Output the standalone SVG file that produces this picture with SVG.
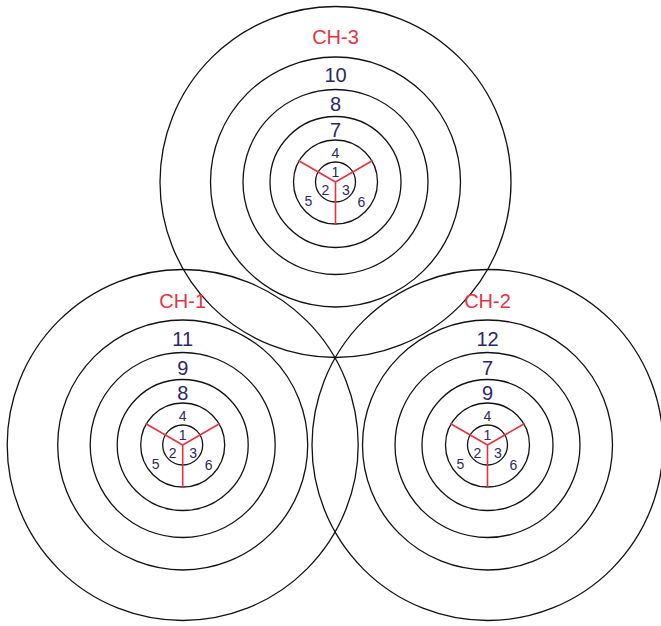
<svg xmlns="http://www.w3.org/2000/svg" width="661" height="626" viewBox="0 0 661 626">
<style>
.ring{fill:none;stroke:#111;stroke-width:1.3}
.spoke{stroke:#e8333f;stroke-width:1.6;fill:none}
.ch{font-family:"Liberation Sans",Arial,sans-serif;font-size:20px;fill:#e8333f;text-anchor:middle}
.big{font-family:"Liberation Sans",Arial,sans-serif;font-size:20px;fill:#2b2869;text-anchor:middle}
.sm{font-family:"Liberation Sans",Arial,sans-serif;font-size:14px;fill:#2b2869;text-anchor:middle}
</style>
<rect width="661" height="626" fill="#fff"/>
<defs>
<g id="rings">
<circle class="ring" r="175.5"/>
<circle class="ring" r="125"/>
<circle class="ring" r="92.5"/>
<circle class="ring" r="65.5"/>
<circle class="ring" r="42"/>
<circle class="ring" r="20"/>
<path class="spoke" d="M0 0V43M0 0L37.2 -21.5M0 0L-37.2 -21.5"/>
<text class="sm" x="0" y="-24.5">4</text>
<text class="sm" x="0" y="-5">1</text>
<text class="sm" x="-10" y="13">2</text>
<text class="sm" x="10.5" y="13">3</text>
<text class="sm" x="-27" y="23.5">5</text>
<text class="sm" x="26" y="24.5">6</text>
</g>
</defs>
<g id="ch3" transform="translate(335.5,182)">
<use href="#rings"/>
<text class="ch" y="-138">CH-3</text>
<text class="big" y="-100">10</text>
<text class="big" y="-71">8</text>
<text class="big" y="-45">7</text>
</g>
<g id="ch1" transform="translate(182.7,445)">
<use href="#rings"/>
<text class="ch" y="-137">CH-1</text>
<text class="big" y="-99">11</text>
<text class="big" y="-70">9</text>
<text class="big" y="-45">8</text>
</g>
<g id="ch2" transform="translate(487.5,445)">
<use href="#rings"/>
<text class="ch" y="-137">CH-2</text>
<text class="big" y="-99">12</text>
<text class="big" y="-70">7</text>
<text class="big" y="-45">9</text>
</g>
</svg>
